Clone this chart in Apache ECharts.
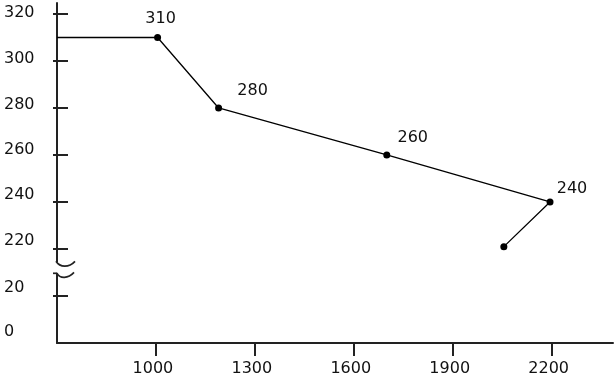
<!DOCTYPE html>
<html><head><meta charset="utf-8">
<script src="https://cdn.jsdelivr.net/npm/echarts@6/dist/echarts.min.js"></script>
<style>html,body{margin:0;padding:0;background:#fff}#c{width:615px;height:380px}</style>
</head><body><div id="c"></div>
<script>
// ---- data ----
const xTickValues = [1000, 1300, 1600, 1900, 2200];
const yTickLabels = ['0', '20', '220', '240', '260', '280', '300', '320'];
const xValues = [700, 1005, 1190, 1700, 2195, 2055];
const yValues = [310, 310, 280, 260, 240, 221];
const hasMarker = [false, true, true, true, true, true];
const hasLabel = [false, true, true, true, true, false];

// broken y scale: 0..20 in first step, 220..320 afterwards
function yIndex(v) { return v <= 20 ? v / 20 : 2 + (v - 220) / 20; }

const FONT = 'DejaVu Sans';
const TXT = '#111';
const labelOffsets = [[0, 0], [3, -19], [34, -17], [26, -17], [22, -13], [0, 0]];
const yLabelShift = [11, 8.5, 8, 7, 5, 3, 2, 1];

const rich = {};
yLabelShift.forEach((d, i) => {
  rich['r' + i] = { fontFamily: FONT, fontSize: 16, color: TXT, padding: [0, 0, 2 * d, 0] };
});

const yIdx = yTickLabels.map((_, i) => i);
const chart = echarts.init(document.getElementById('c'), null, { renderer: 'canvas' });
chart.setOption({
  animation: false,
  backgroundColor: '#fff',
  grid: { left: 57, right: 2, top: 3, bottom: 37, containLabel: false },
  xAxis: {
    type: 'value', min: 700, max: 2386,
    axisLine: { show: true, lineStyle: { color: '#222', width: 2 } },
    axisTick: { show: true, length: 13, customValues: xTickValues, lineStyle: { color: '#222', width: 2 } },
    axisLabel: { customValues: xTickValues, formatter: v => String(v), fontFamily: FONT, fontSize: 16, color: TXT, margin: 18, padding: [0, 6, 0, 0] },
    splitLine: { show: false }
  },
  yAxis: [{
    type: 'value', min: 0, max: 7.234, position: 'left',
    axisLine: { show: true, onZero: false, lineStyle: { color: '#222', width: 2 } },
    axisTick: { show: true, inside: true, length: 11, customValues: yIdx.slice(1), lineStyle: { color: '#222', width: 2 } },
    axisLabel: {
      customValues: yIdx, align: 'left', margin: 53,
      formatter: v => { const i = Math.round(v); return '{r' + i + '|' + yTickLabels[i] + '}'; },
      rich: rich
    },
    splitLine: { show: false }
  }, {
    type: 'value', min: 0, max: 7.234, position: 'left', offset: 0,
    axisLine: { show: false },
    axisTick: { show: true, inside: false, length: 4, customValues: yIdx.slice(1), lineStyle: { color: '#222', width: 2 } },
    axisLabel: { show: false },
    splitLine: { show: false }
  }],
  series: [{
    type: 'line',
    xAxisIndex: 0, yAxisIndex: 0,
    data: xValues.map((x, i) => ({
      value: [x, yIndex(yValues[i])],
      symbol: hasMarker[i] ? 'circle' : 'none',
      label: {
        show: hasLabel[i], position: 'inside', offset: labelOffsets[i],
        formatter: String(yValues[i]),
        fontFamily: FONT, fontSize: 16, color: TXT
      }
    })),
    symbolSize: 7,
    itemStyle: { color: '#000' },
    lineStyle: { color: '#000', width: 1.3 },
    emphasis: { disabled: true }
  }]
});

// axis break marks
const p = chart.convertToPixel({ xAxisIndex: 0, yAxisIndex: 0 }, [700, 1.6]);
const brk = { stroke: '#222', lineWidth: 1.7, fill: 'none' };
chart.setOption({
  graphic: [{
    type: 'group', x: p[0], y: p[1], z: 100,
    children: [
      { type: 'rect', shape: { x: -3, y: -5.5, width: 6, height: 10.5 }, style: { fill: '#fff' }, z: 100 },
      { type: 'bezierCurve', shape: { x1: -1, y1: -6.5, cpx1: 3, cpy1: 0, cpx2: 12, cpy2: 0, x2: 18, y2: -6.5 }, style: brk, z: 101 },
      { type: 'line', shape: { x1: -4, y1: 5.5, x2: 0, y2: 5.5 }, style: brk, z: 101 },
      { type: 'bezierCurve', shape: { x1: 0, y1: 5.5, cpx1: 3, cpy1: 11, cpx2: 11, cpy2: 11, x2: 17, y2: 4.5 }, style: brk, z: 101 }
    ]
  }]
});
</script>
</body></html>
